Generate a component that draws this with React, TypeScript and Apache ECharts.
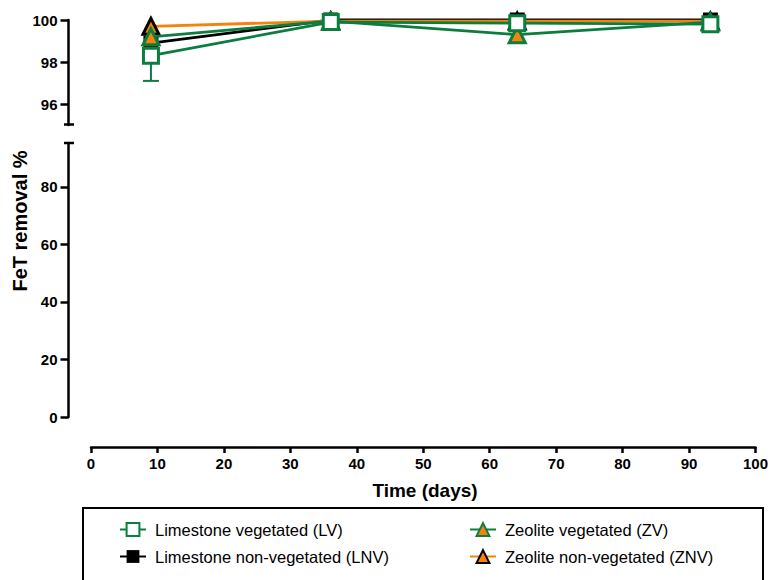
import React, { useEffect, useRef } from "react";
import * as echarts from "echarts";

const days = [9, 36, 64, 93];
const lvValues = [98.3, 99.9, 99.85, 99.8];
const lvErrors = [1.2, 0, 0, 0];
const lnvValues = [98.9, 100, 100, 100];
const zvValues = [99.2, 99.95, 99.3, 99.9];
const znvValues = [99.7, 99.95, 99.95, 99.95];
const upperTicks = [96, 98, 100];
const lowerTicks = [0, 20, 40, 60, 80];

const GREEN = "#0b7d3f";
const ORANGE = "#f5820d";
const BLACK = "#000000";
const FONT = "Liberation Sans, Arial, sans-serif";

const NAMES = {
  lv: "Limestone vegetated (LV)",
  lnv: "Limestone non-vegetated (LNV)",
  zv: "Zeolite vegetated (ZV)",
  znv: "Zeolite non-vegetated (ZNV)",
};

function pairs(vals: number[]) {
  return days.map((d, i) => [d, vals[i]]);
}

export default function App() {
  const ref = useRef<HTMLDivElement>(null);
  useEffect(() => {
    if (!ref.current) return;
    const chart = echarts.init(ref.current, null, { renderer: "svg" });
    const axisLabelStyle = {
      color: BLACK,
      fontWeight: "bold" as const,
      fontSize: 15,
      fontFamily: FONT,
    };
    const errData = days
      .map((d, i) => [d, lvValues[i] - lvErrors[i], lvValues[i] + lvErrors[i]])
      .filter((_, i) => lvErrors[i] > 0);

    const lineSeries = (name: string, vals: number[], color: string, symbol: string, fill: string, border: string, size: number, z: number) => ({
      type: "line",
      name,
      xAxisIndex: 0,
      yAxisIndex: 0,
      data: pairs(vals),
      symbol,
      symbolSize: size,
      clip: false,
      z,
      lineStyle: { color, width: 2.8 },
      itemStyle: { color: fill, borderColor: border, borderWidth: border === fill ? 0 : 3 },
    });

    const legendCommon = {
      orient: "vertical",
      top: 516,
      itemGap: 10,
      itemWidth: 26,
      itemHeight: 16,
      textStyle: { color: BLACK, fontSize: 16.5, fontFamily: FONT, padding: [0, 0, 0, 4] },
    };

    chart.setOption({
      animation: false,
      grid: [
        { left: 91, width: 666, top: 20, height: 105 },
        { left: 91, width: 666, top: 143, height: 274 },
      ],
      xAxis: [
        { gridIndex: 0, type: "value", min: 0, max: 100, show: false },
        {
          gridIndex: 1,
          type: "value",
          min: 0,
          max: 100,
          interval: 10,
          offset: 30,
          axisLine: { show: true, onZero: false, lineStyle: { color: BLACK, width: 2.5 } },
          axisTick: { show: true, inside: false, length: 6, lineStyle: { color: BLACK, width: 2.5 } },
          axisLabel: { ...axisLabelStyle, margin: 9 },
          splitLine: { show: false },
        },
      ],
      yAxis: [
        {
          gridIndex: 0,
          type: "value",
          min: 95,
          max: 100,
          offset: 22.5,
          axisLine: { show: true, onZero: false, lineStyle: { color: BLACK, width: 2.5 } },
          axisTick: { show: true, length: 8, customValues: upperTicks, lineStyle: { color: BLACK, width: 2.5 } },
          axisLabel: { ...axisLabelStyle, margin: 11, customValues: upperTicks },
          splitLine: { show: false },
        },
        {
          gridIndex: 1,
          type: "value",
          min: 0,
          max: 95.3,
          offset: 22.5,
          axisLine: { show: true, onZero: false, lineStyle: { color: BLACK, width: 2.5 } },
          axisTick: { show: true, length: 8, customValues: lowerTicks, lineStyle: { color: BLACK, width: 2.5 } },
          axisLabel: { ...axisLabelStyle, margin: 11, customValues: lowerTicks },
          splitLine: { show: false },
        },
      ],
      legend: [
        { ...legendCommon, data: [NAMES.lv, NAMES.lnv], left: 114 },
        { ...legendCommon, data: [NAMES.zv, NAMES.znv], left: 464 },
      ],
      graphic: [
        {
          type: "rect",
          shape: { x: 83, y: 508, width: 680, height: 90 },
          style: { fill: "none", stroke: BLACK, lineWidth: 2 },
          z: -1,
        },
        {
          type: "line",
          shape: { x1: 64, y1: 124.5, x2: 74, y2: 124.5 },
          style: { stroke: BLACK, lineWidth: 2.5 },
        },
        {
          type: "line",
          shape: { x1: 64, y1: 143, x2: 74, y2: 143 },
          style: { stroke: BLACK, lineWidth: 2.5 },
        },
        {
          type: "text",
          x: 20,
          y: 221,
          rotation: Math.PI / 2,
          style: {
            text: "FeT removal %",
            fill: BLACK,
            font: "bold 20px " + FONT,
            textAlign: "center",
            textVerticalAlign: "middle",
          },
        },
        {
          type: "text",
          x: 425,
          y: 490,
          style: {
            text: "Time (days)",
            fill: BLACK,
            font: "bold 19px " + FONT,
            textAlign: "center",
            textVerticalAlign: "middle",
          },
        },
      ],
      series: [
        {
          type: "custom",
          name: "LV error",
          xAxisIndex: 0,
          yAxisIndex: 0,
          z: 1,
          clip: false,
          data: errData,
          renderItem: (params: any, api: any) => {
            const x = api.value(0);
            const pLo = api.coord([x, api.value(1)]);
            const pHi = api.coord([x, api.value(2)]);
            const st = { stroke: GREEN, lineWidth: 2 };
            return {
              type: "group",
              children: [
                { type: "line", shape: { x1: pLo[0], y1: pLo[1], x2: pHi[0], y2: pHi[1] }, style: st },
                { type: "line", shape: { x1: pLo[0] - 8, y1: pLo[1], x2: pLo[0] + 8, y2: pLo[1] }, style: st },
              ],
            };
          },
        },
        lineSeries(NAMES.lnv, lnvValues, BLACK, "rect", BLACK, BLACK, 15, 2),
        lineSeries(NAMES.znv, znvValues, ORANGE, "triangle", ORANGE, BLACK, 16, 3),
        lineSeries(NAMES.zv, zvValues, GREEN, "triangle", ORANGE, GREEN, 16, 4),
        lineSeries(NAMES.lv, lvValues, GREEN, "rect", "#ffffff", GREEN, 15, 5),
      ],
    });
    return () => chart.dispose();
  }, []);
  return (
    <div
      ref={ref}
      style={{ position: "fixed", left: 0, top: 0, width: 771, height: 580, background: "#fff" }}
    />
  );
}
